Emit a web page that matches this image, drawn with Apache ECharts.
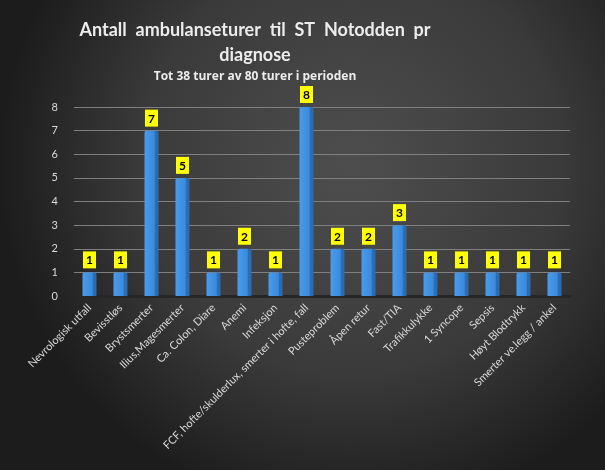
<!DOCTYPE html>
<html>
<head>
<meta charset="utf-8">
<script src="https://cdn.jsdelivr.net/npm/echarts@6/dist/echarts.min.js"></script>
<style>
html,body{margin:0;padding:0;background:#2b2b2b;}
#c{width:605px;height:470px;}
</style>
</head>
<body>
<div id="c"></div>
<script>
const categories = ["Nevrologisk utfall", "Bevisstløs", "Brystsmerter", "Ilius,Magesmerter", "Ca. Colon, Diare", "Anemi", "Infeksjon", "FCF, hofte/skulderlux, smerter i hofte, fall", "Pusteproblem", "Åpen retur", "Fast/TIA", "Trafikkulykke", "1 Syncope", "Sepsis", "Høyt Blodtrykk", "Smerter ve.legg / ankel"];
const values = [1, 1, 7, 5, 1, 2, 1, 8, 2, 2, 3, 1, 1, 1, 1, 1];
const titleText = "Antall  ambulanseturer  til  ST  Notodden  pr\ndiagnose";
const subtitleText = "Tot 38 turer av 80 turer i perioden";

const chart = echarts.init(document.getElementById('c'));
const font = 'Lato, "Open Sans", sans-serif';
chart.setOption({
  backgroundColor: {
    type: 'radial', x: 0.58, y: 0.35, r: 0.75,
    colorStops: [{offset: 0, color: '#4e4e4e'}, {offset: 0.6, color: '#3a3a3a'}, {offset: 1, color: '#1c1c1c'}]
  },
  textStyle: {fontFamily: font},
  title: [{
    text: titleText, left: 250, top: 13, textAlign: 'center',
    textStyle: {color: '#ececec', fontSize: 18, fontWeight: 'bold', lineHeight: 25, fontFamily: font}
  }, {
    text: subtitleText, left: 250, top: 66, textAlign: 'center',
    textStyle: {color: '#ececec', fontSize: 12, fontWeight: 'bold', fontFamily: '"Open Sans", sans-serif'}
  }],
  grid: {left: 74, right: 35, top: 107, bottom: 174, containLabel: false},
  xAxis: {
    type: 'category', data: categories,
    axisLine: {show: true, lineStyle: {color: '#262626', width: 3}},
    axisTick: {show: false},
    axisLabel: {rotate: 45, color: '#d9d9d9', fontSize: 11, margin: 10, interval: 0, fontFamily: font}
  },
  yAxis: {
    type: 'value', min: 0, max: 8, interval: 1,
    axisLine: {show: false}, axisTick: {show: false},
    axisLabel: {color: '#d9d9d9', fontSize: 11, margin: 16, fontFamily: font},
    splitLine: {lineStyle: {color: '#7f7f7f', width: 1}}
  },
  series: [{
    type: 'bar', data: values, barWidth: 14,
    itemStyle: {
      color: {type: 'linear', x: 0, y: 0, x2: 1, y2: 0,
        colorStops: [{offset: 0, color: '#4a9bea'}, {offset: 0.7, color: '#3a8bdc'}, {offset: 0.75, color: '#2a6fb8'}, {offset: 1, color: '#2a6ab0'}]},
      borderRadius: [2, 2, 0, 0]
    },
    label: {
      show: true, position: 'top', distance: 4,
      backgroundColor: '#ffff00', color: '#000', fontWeight: 'bold', fontSize: 12,
      padding: [3, 3, 2, 3], fontFamily: font
    }
  }]
});
</script>
</body>
</html>
